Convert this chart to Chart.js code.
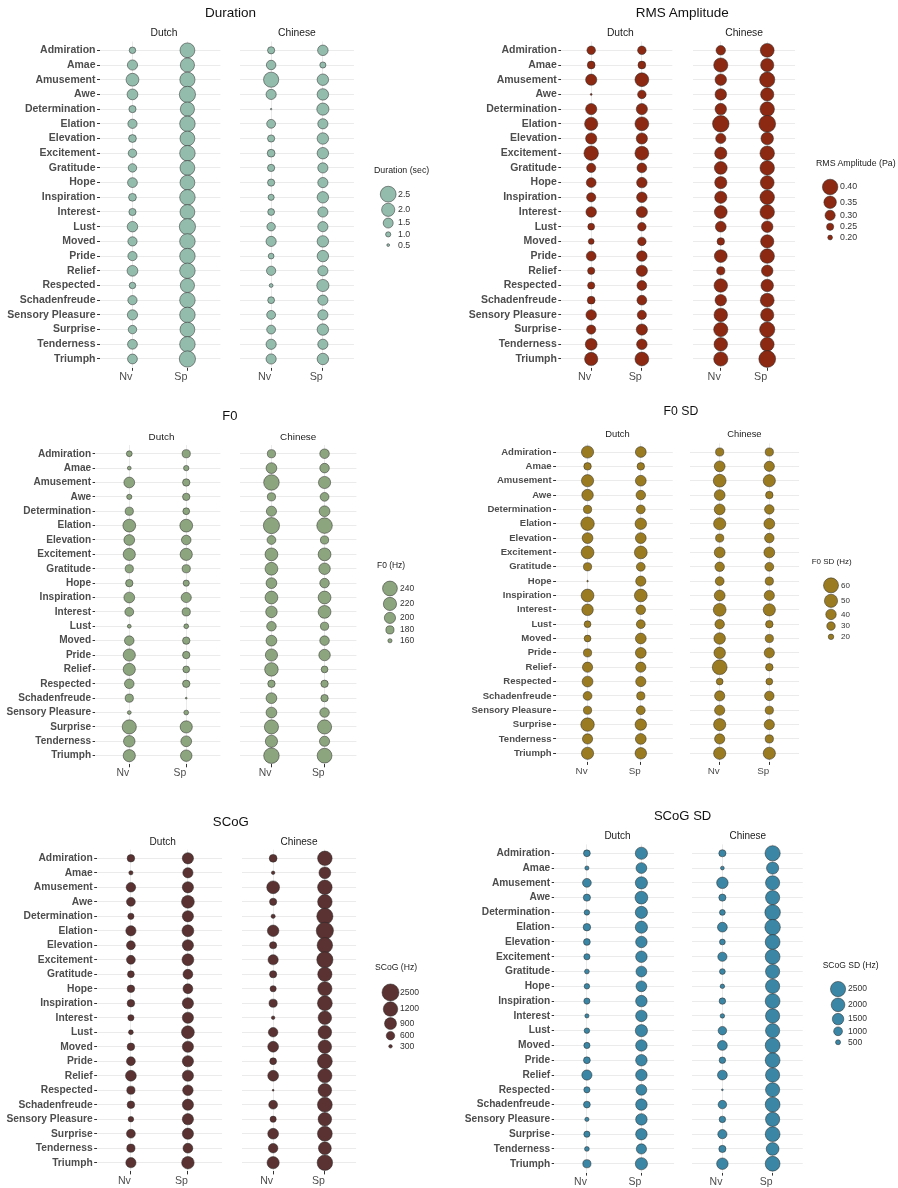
<!DOCTYPE html>
<html>
<head>
<meta charset="utf-8">
<script src="https://cdn.jsdelivr.net/npm/chart.js@4.4.1/dist/chart.umd.min.js"></script>
<style>
  html, body { margin: 0; padding: 0; background: #fff; }
  #page { position: relative; width: 898px; height: 1188px; overflow: hidden; background: #fff;
          font-family: "Liberation Sans", Arial, Helvetica, sans-serif; }
  #page canvas { position: absolute; }
  .txt { position: absolute; white-space: nowrap; line-height: 1; }
</style>
</head>
<body>
<div id="page"></div>
<script>
// ---------- categories ----------
const emotions = ['Admiration', 'Amae', 'Amusement', 'Awe', 'Determination', 'Elation', 'Elevation',
  'Excitement', 'Gratitude', 'Hope', 'Inspiration', 'Interest', 'Lust', 'Moved', 'Pride', 'Relief',
  'Respected', 'Schadenfreude', 'Sensory Pleasure', 'Surprise', 'Tenderness', 'Triumph'];
const speechTypes = ['Nv', 'Sp'];
const groups = ['Dutch', 'Chinese'];

// ---------- Duration (sec) ----------
const durationDutchNv    = [1.14, 1.53, 1.94, 1.62, 1.21, 1.42, 1.27, 1.34, 1.34, 1.48, 1.27, 1.21, 1.58, 1.42, 1.42, 1.62, 1.14, 1.42, 1.53, 1.34, 1.48, 1.48];
const durationDutchSp    = [2.31, 2.19, 2.38, 2.58, 2.19, 2.44, 2.31, 2.44, 2.31, 2.31, 2.44, 2.31, 2.58, 2.44, 2.44, 2.44, 2.19, 2.44, 2.44, 2.31, 2.44, 2.58];
const durationChineseNv  = [1.21, 1.45, 2.38, 1.53, 0.23, 1.38, 1.21, 1.27, 1.21, 1.21, 1.10, 1.17, 1.34, 1.53, 1.06, 1.42, 0.71, 1.17, 1.38, 1.38, 1.53, 1.53];
const durationChineseSp  = [1.58, 1.10, 1.73, 1.73, 1.84, 1.53, 1.73, 1.73, 1.53, 1.53, 1.73, 1.53, 1.53, 1.73, 1.73, 1.53, 1.84, 1.53, 1.53, 1.73, 1.53, 1.73];
const durationBreaks = [2.5, 2.0, 1.5, 1.0, 0.5];
const durationBreakLabels = ['2.5', '2.0', '1.5', '1.0', '0.5'];

// ---------- RMS Amplitude (Pa) ----------
const rmsDutchNv   = [0.272, 0.260, 0.322, 0.138, 0.322, 0.362, 0.322, 0.383, 0.283, 0.293, 0.283, 0.307, 0.242, 0.221, 0.293, 0.250, 0.250, 0.260, 0.307, 0.283, 0.335, 0.362];
const rmsDutchSp   = [0.272, 0.260, 0.372, 0.272, 0.322, 0.372, 0.322, 0.372, 0.293, 0.307, 0.307, 0.322, 0.272, 0.272, 0.307, 0.322, 0.293, 0.293, 0.283, 0.322, 0.307, 0.372];
const rmsChineseNv = [0.288, 0.378, 0.328, 0.328, 0.328, 0.417, 0.300, 0.343, 0.355, 0.343, 0.343, 0.355, 0.313, 0.255, 0.355, 0.267, 0.367, 0.328, 0.367, 0.378, 0.367, 0.378];
const rmsChineseSp = [0.372, 0.362, 0.395, 0.362, 0.383, 0.422, 0.350, 0.383, 0.383, 0.372, 0.383, 0.383, 0.328, 0.362, 0.383, 0.328, 0.350, 0.372, 0.362, 0.395, 0.372, 0.422];
const rmsBreaks = [0.40, 0.35, 0.30, 0.25, 0.20];
const rmsBreakLabels = ['0.40', '0.35', '0.30', '0.25', '0.20'];

// ---------- F0 (Hz) ----------
const f0DutchNv   = [168, 158, 197, 165, 180, 216, 197, 210, 180, 176, 197, 184, 158, 189, 210, 210, 189, 180, 158, 232, 203, 210];
const f0DutchSp   = [180, 166, 176, 176, 173, 216, 189, 210, 180, 170, 193, 180, 163, 176, 176, 173, 176, 148, 163, 210, 197, 203];
const f0ChineseNv = [180, 197, 249, 180, 193, 257, 184, 216, 216, 197, 216, 203, 189, 197, 210, 224, 176, 197, 197, 232, 210, 249];
const f0ChineseSp = [189, 189, 210, 184, 197, 249, 180, 216, 203, 189, 216, 216, 180, 189, 203, 173, 176, 176, 189, 232, 193, 240];
const f0Breaks = [240, 220, 200, 180, 160];
const f0BreakLabels = ['240', '220', '200', '180', '160'];

// ---------- F0 SD (Hz) ----------
const f0sdDutchNv   = [46.3, 26.7, 46.3, 43.7, 29.0, 51.7, 41.1, 48.5, 29.0, 6.7, 48.5, 43.7, 24.3, 24.3, 29.0, 38.5, 41.1, 31.5, 29.0, 51.7, 38.5, 46.3];
const f0sdDutchSp   = [41.1, 26.7, 41.1, 35.0, 31.5, 43.7, 41.1, 48.5, 31.5, 38.5, 48.5, 35.0, 31.5, 41.1, 41.1, 38.5, 38.5, 29.0, 31.5, 43.7, 41.1, 43.7];
const f0sdChineseNv = [29.0, 41.1, 48.5, 41.1, 41.1, 46.3, 29.0, 41.1, 35.0, 31.5, 41.1, 48.5, 35.0, 43.7, 43.7, 58.9, 24.3, 38.5, 38.5, 46.3, 38.5, 46.3];
const f0sdChineseSp = [29.0, 38.5, 46.3, 26.7, 35.0, 41.1, 35.0, 41.1, 31.5, 29.0, 38.5, 46.3, 26.7, 29.0, 38.5, 26.7, 24.3, 35.0, 29.0, 38.5, 29.0, 46.3];
const f0sdBreaks = [60, 50, 40, 30, 20];
const f0sdBreakLabels = ['60', '50', '40', '30', '20'];

// ---------- SCoG (Hz) ----------
const scogDutchNv   = [540, 342, 686, 626, 462, 746, 626, 626, 498, 540, 540, 462, 378, 540, 626, 797, 582, 540, 420, 626, 582, 746];
const scogDutchSp   = [831, 746, 831, 996, 831, 883, 831, 883, 711, 711, 831, 831, 996, 831, 831, 831, 771, 831, 831, 831, 711, 960];
const scogChineseNv = [558, 300, 996, 522, 342, 857, 522, 746, 522, 462, 582, 300, 686, 797, 498, 797, 198, 626, 462, 797, 686, 924];
const scogChineseSp = [1200, 883, 1200, 1200, 2084, 2604, 1720, 2084, 1164, 1164, 1356, 1080, 1080, 1080, 1356, 1164, 1080, 1356, 1080, 1356, 996, 1720];
const scogBreaks = [2500, 1200, 900, 600, 300];
const scogBreakLabels = ['2500', '1200', '900', '600', '300'];

// ---------- SCoG SD (Hz) ----------
const scogsdDutchNv   = [737, 395, 1000, 789, 566, 829, 737, 658, 474, 566, 658, 395, 566, 658, 737, 1259, 658, 737, 395, 658, 474, 921];
const scogsdDutchSp   = [1659, 1370, 1659, 1795, 1659, 1659, 1500, 1500, 1370, 1370, 1500, 1500, 1659, 1500, 1500, 1500, 1370, 1500, 1500, 1500, 1259, 1659];
const scogsdChineseNv = [789, 342, 1500, 789, 605, 1185, 605, 1074, 605, 434, 697, 434, 961, 1185, 697, 1185, 79, 961, 697, 1074, 789, 1500];
const scogsdChineseSp = [2500, 1659, 2167, 2167, 2600, 2600, 2367, 2367, 2167, 2167, 2367, 2167, 2167, 2367, 2367, 2167, 2167, 2367, 2167, 2367, 1795, 2367];
const scogsdBreaks = [2500, 2000, 1500, 1000, 500];
const scogsdBreakLabels = ['2500', '2000', '1500', '1000', '500'];

// ---------- panel layout and size scales ----------
// sizeStops: [value, bubble diameter in px], ascending; diameters are interpolated between them.
const panels = [
  { title: 'Duration', legendTitle: 'Duration (sec)', fill: '#93bcad',
    series: [[durationDutchNv, durationDutchSp], [durationChineseNv, durationChineseSp]],
    breaks: durationBreaks, breakLabels: durationBreakLabels,
    sizeStops: [[0.5, 3.3], [1.0, 5.7], [1.5, 10.5], [2.0, 13.7], [2.5, 16.3]],
    facetLeft: [99.5, 232.5], facetWidth: 128.9, top: 41.5, bottom: 367.8,
    titleY: 13, stripY: 33, fs: 1.0, legendTitleX: 374, legendTitleY: 170, legendKeyX: 384 },
  { title: 'RMS Amplitude', legendTitle: 'RMS Amplitude (Pa)', fill: '#8b2913',
    series: [[rmsDutchNv, rmsDutchSp], [rmsChineseNv, rmsChineseSp]],
    breaks: rmsBreaks, breakLabels: rmsBreakLabels,
    sizeStops: [[0.20, 5.3], [0.25, 7.7], [0.30, 10.7], [0.35, 13.0], [0.40, 16.0]],
    facetLeft: [560.8, 684.5], facetWidth: 119.2, top: 41.5, bottom: 367.8,
    titleY: 13, stripY: 33, fs: 1.0, legendTitleX: 816, legendTitleY: 163, legendKeyX: 826 },
  { title: 'F0', legendTitle: 'F0 (Hz)', fill: '#8da57e',
    series: [[f0DutchNv, f0DutchSp], [f0ChineseNv, f0ChineseSp]],
    breaks: f0Breaks, breakLabels: f0BreakLabels,
    sizeStops: [[160, 4.7], [180, 8.7], [200, 11.7], [220, 13.7], [240, 15.3]],
    facetLeft: [95.1, 231.8], facetWidth: 132.8, top: 445.1, bottom: 764.3,
    titleY: 416, stripY: 437, fs: 0.96, legendTitleX: 377, legendTitleY: 565, legendKeyX: 386 },
  { title: 'F0 SD', legendTitle: 'F0 SD (Hz)', fill: '#9a7b21',
    series: [[f0sdDutchNv, f0sdDutchSp], [f0sdChineseNv, f0sdChineseSp]],
    breaks: f0sdBreaks, breakLabels: f0sdBreakLabels,
    sizeStops: [[20, 6.0], [30, 9.0], [40, 11.0], [50, 13.7], [60, 15.5]],
    facetLeft: [555.6, 682.6], facetWidth: 123.6, top: 443.4, bottom: 761.9,
    titleY: 411, stripY: 435.3, fs: 0.91, legendTitleX: 811.7, legendTitleY: 561.7, legendKeyX: 826.7 },
  { title: 'SCoG', legendTitle: 'SCoG (Hz)', fill: '#5b3232',
    series: [[scogDutchNv, scogDutchSp], [scogChineseNv, scogChineseSp]],
    breaks: scogBreaks, breakLabels: scogBreakLabels,
    sizeStops: [[300, 4.0], [600, 9.0], [900, 12.5], [1200, 15.0], [2500, 17.5]],
    facetLeft: [96.7, 233.0], facetWidth: 132.0, top: 849.6, bottom: 1171.4,
    titleY: 821.7, stripY: 841.7, fs: 0.98, legendTitleX: 375, legendTitleY: 967.3, legendKeyX: 385.7 },
  { title: 'SCoG SD', legendTitle: 'SCoG SD (Hz)', fill: '#3b86a4',
    series: [[scogsdDutchNv, scogsdDutchSp], [scogsdChineseNv, scogsdChineseSp]],
    breaks: scogsdBreaks, breakLabels: scogsdBreakLabels,
    sizeStops: [[500, 5.5], [1000, 9.3], [1500, 12.0], [2000, 14.2], [2500, 15.7]],
    facetLeft: [554.2, 684.5], facetWidth: 126.5, top: 844.4, bottom: 1172.6,
    titleY: 816, stripY: 836, fs: 0.97, legendTitleX: 822.7, legendTitleY: 965.3, legendKeyX: 833.7 }
];

const FONT = '"Liberation Sans", Arial, Helvetica, sans-serif';
const OUTLINE = '#262626';
const BORDER_W = 0.5;
Chart.defaults.font.family = FONT;
Chart.defaults.animation = false;

const page = document.getElementById('page');

function addText(str, x, y, size, opts = {}) {
  const d = document.createElement('div');
  d.className = 'txt';
  d.textContent = str;
  d.style.left = x + 'px';
  d.style.top = y + 'px';
  d.style.fontSize = size + 'px';
  d.style.color = opts.color || '#1a1a1a';
  d.style.transform = opts.anchor === 'left' ? 'translate(0,-50%)' : 'translate(-50%,-50%)';
  page.appendChild(d);
}

// bubble diameter (px) for a value, piecewise linear through the size stops
function diameter(v, stops) {
  let i = 0;
  if (v >= stops[stops.length - 1][0]) i = stops.length - 2;
  else if (v > stops[0][0]) { while (v > stops[i + 1][0]) i++; }
  const [v0, d0] = stops[i], [v1, d1] = stops[i + 1];
  return Math.max(1.6, d0 + (v - v0) * (d1 - d0) / (v1 - v0));
}
const radius = (v, stops) => Math.max(0.6, diameter(v, stops) / 2 - BORDER_W / 2);

function drawFacet(p, gi) {
  const fl = p.facetLeft[gi];
  const labelSpace = gi === 0 ? 95 : 0;
  const cLeft = Math.floor(fl - labelSpace);
  const cRight = Math.ceil(fl + p.facetWidth);
  const cTop = Math.floor(p.top) - 10;
  const cBottom = Math.ceil(p.bottom) + 22;
  const cv = document.createElement('canvas');
  cv.width = cRight - cLeft;
  cv.height = cBottom - cTop;
  cv.style.left = cLeft + 'px';
  cv.style.top = cTop + 'px';
  page.appendChild(cv);

  const yAxisW = fl - cLeft;
  const xAxisH = cBottom - p.bottom;
  const isFirst = gi === 0;

  const datasets = p.series[gi].map((vals, si) => ({
    label: groups[gi] + ' ' + speechTypes[si],
    data: vals.map((v, i) => ({ x: si + 1, y: i, r: radius(v, p.sizeStops) })),
    backgroundColor: p.fill,
    borderColor: OUTLINE,
    borderWidth: BORDER_W,
    clip: false
  }));

  new Chart(cv, {
    type: 'bubble',
    data: { datasets },
    options: {
      responsive: false,
      animation: false,
      events: [],
      layout: { padding: { top: p.top - cTop, left: 0, right: 0, bottom: 0 } },
      plugins: { legend: { display: false }, tooltip: { enabled: false } },
      scales: {
        x: {
          type: 'linear', min: 0.4, max: 2.6,
          afterBuildTicks: s => { s.ticks = speechTypes.map((_, k) => ({ value: k + 1 })); },
          afterFit: s => { s.height = xAxisH; },
          ticks: {
            callback: v => speechTypes[v - 1],
            align: 'end', maxRotation: 0, minRotation: 0, autoSkip: false, padding: 0,
            color: '#4d4d4d', font: { size: 10.8 * p.fs }
          },
          grid: { color: '#ebebeb', lineWidth: 1, tickColor: '#333333', tickLength: 3, drawTicks: true },
          border: { display: false }
        },
        y: {
          type: 'linear', min: -0.6, max: emotions.length - 0.4, reverse: true,
          afterBuildTicks: s => { s.ticks = emotions.map((_, k) => ({ value: k })); },
          afterFit: s => { s.width = yAxisW; },
          ticks: {
            display: isFirst,
            callback: v => emotions[v],
            autoSkip: false, padding: 1.5,
            color: '#4d4d4d', font: { size: 10.5 * p.fs, weight: 'bold' }
          },
          grid: { color: '#ebebeb', lineWidth: 1, tickColor: '#333333',
                  tickLength: isFirst ? 2.5 : 0, drawTicks: isFirst },
          border: { display: false }
        }
      }
    }
  });

  addText(groups[gi], fl + p.facetWidth / 2, p.stripY, 10.3 * p.fs, { color: '#1a1a1a' });
}

function drawLegend(p) {
  const ds = p.breaks.map(b => diameter(b, p.sizeStops));
  const hs = ds.map(d => Math.max(d + 4, 13));
  const keyY = [9 + hs[0] / 2];
  for (let i = 1; i < hs.length; i++) keyY.push(keyY[i - 1] + (hs[i - 1] + hs[i]) / 2);

  const cLeft = Math.round(p.legendKeyX - 13);
  const cTop = Math.round(p.legendTitleY);
  const off = p.legendTitleY - cTop;
  const H = Math.ceil(keyY[keyY.length - 1] + off + 14);
  const cv = document.createElement('canvas');
  cv.width = 26 + 45;
  cv.height = H;
  cv.style.left = cLeft + 'px';
  cv.style.top = cTop + 'px';
  page.appendChild(cv);

  const tickVals = keyY.map(y => y + off);
  new Chart(cv, {
    type: 'bubble',
    data: {
      datasets: [{
        data: p.breaks.map((b, i) => ({ x: 0.5, y: tickVals[i], r: radius(b, p.sizeStops) })),
        backgroundColor: p.fill, borderColor: OUTLINE, borderWidth: BORDER_W, clip: false
      }]
    },
    options: {
      responsive: false, animation: false, events: [],
      layout: { padding: 0 },
      plugins: { legend: { display: false }, tooltip: { enabled: false } },
      scales: {
        x: { type: 'linear', min: 0, max: 1, display: false },
        y: {
          type: 'linear', position: 'right', min: 0, max: H, reverse: true,
          afterBuildTicks: s => { s.ticks = tickVals.map(v => ({ value: v })); },
          afterFit: s => { s.width = 45; },
          ticks: {
            callback: (v, i) => p.breakLabels[i],
            autoSkip: false, padding: 1, color: '#333333', font: { size: 8.8 * p.fs }
          },
          grid: { display: false, drawTicks: false },
          border: { display: false }
        }
      }
    }
  });

  addText(p.legendTitle, p.legendTitleX, p.legendTitleY, 8.8 * p.fs, { anchor: 'left', color: '#1a1a1a' });
}

panels.forEach(p => {
  drawFacet(p, 0);
  drawFacet(p, 1);
  drawLegend(p);
  const cx = (p.facetLeft[0] + p.facetLeft[1] + p.facetWidth) / 2;
  addText(p.title, cx, p.titleY, 13.5 * p.fs, { color: '#111111' });
});
</script>
</body>
</html>
